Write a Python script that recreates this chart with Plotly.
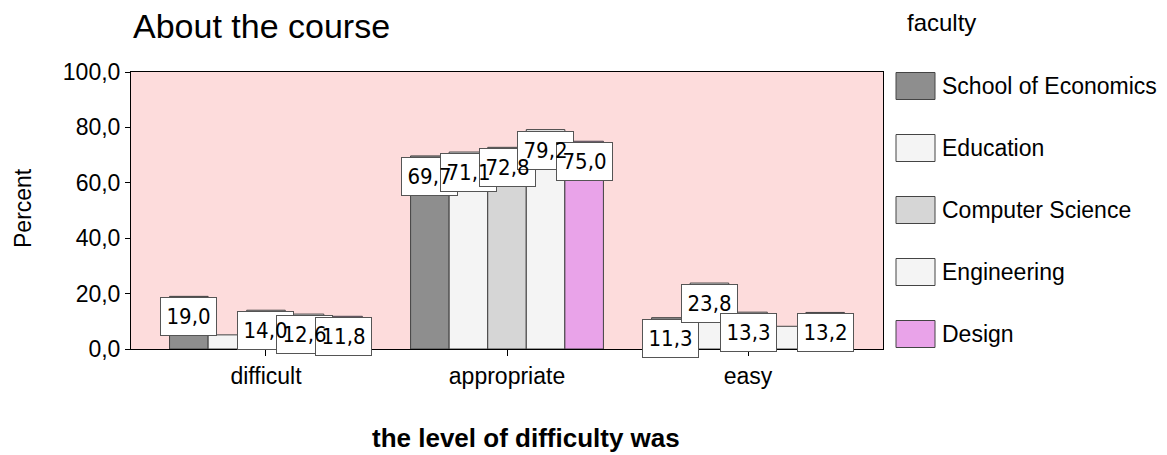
import plotly.graph_objects as go

# data
levels = ["difficult", "appropriate", "easy"]
faculties = ["School of Economics", "Education", "Computer Science", "Engineering", "Design"]
economics = [19.0, 69.7, 11.3]
education = [5.1, 71.1, 23.8]
computer_science = [14.0, 72.8, 13.3]
engineering = [12.6, 79.2, 8.2]
design = [11.8, 75.0, 13.2]
y_ticks = [0, 20, 40, 60, 80, 100]

series = [economics, education, computer_science, engineering, design]
colors = ["#8E8E8E", "#F4F4F4", "#D6D6D6", "#F4F4F4", "#E9A3E9"]

# the page body adds an 8px margin, so the figure is drawn that much smaller
OFF = 8
W, H = 1167 - OFF, 455 - OFF
L, R, T, B = 131 - OFF, 284, 72 - OFF, 106
plot_w = W - L - R
plot_h = H - T - B

fig = go.Figure()
for name, vals, col in zip(faculties, series, colors):
    fig.add_trace(go.Bar(
        x=levels, y=vals, name=name,
        marker=dict(color=col, line=dict(color="#404040", width=1)),
        showlegend=False, hoverinfo="x+y+name",
    ))

label_font = "Liberation Sans Narrow, DejaVu Sans Condensed, Liberation Sans, Arial"
n = len(series)
bar_w = 0.8 / n

# label boxes first, then the texts on top (boxes overlap each other)
boxes, texts = [], []
for si, vals in enumerate(series):
    for ci, v in enumerate(vals):
        if v < 10:
            continue  # small bars carry no label in the reference
        xpos = ci + (si - (n - 1) / 2) * bar_w
        lab = f"{v:.1f}".replace(".", ",")
        common = dict(x=xpos, y=v, xref="x", yref="y", showarrow=False,
                      yanchor="top", yshift=-1, width=53, height=35,
                      borderpad=1, align="center")
        boxes.append(dict(text=lab, font=dict(family=label_font, size=22, color="rgba(0,0,0,0)"),
                          bgcolor="white", bordercolor="#555555", borderwidth=1, **common))
        texts.append(dict(text=lab, font=dict(family=label_font, size=22, color="black"),
                          borderwidth=1, bordercolor="rgba(0,0,0,0)", **common))

# helpers: page pixel (as in the reference) -> paper coords
def px_x(p):
    return (p - OFF - L) / plot_w

def px_y(p):
    return (H - B - (p - OFF)) / plot_h

shapes = []
extra_ann = []
for i, (name, col) in enumerate(zip(faculties, colors)):
    cy = 86 + i * 62
    shapes.append(dict(type="rect", xref="paper", yref="paper",
                       x0=px_x(896), x1=px_x(935), y0=px_y(cy + 13.5), y1=px_y(cy - 13.5),
                       fillcolor=col, line=dict(color="#444444", width=1)))
    extra_ann.append(dict(text=name, x=px_x(940), y=px_y(cy), xref="paper", yref="paper",
                          xanchor="left", yanchor="middle", showarrow=False,
                          font=dict(size=23, color="black")))

extra_ann.append(dict(text="About the course", x=px_x(131), y=px_y(26), xref="paper", yref="paper",
                      xanchor="left", yanchor="middle", showarrow=False,
                      font=dict(size=34, color="black")))
extra_ann.append(dict(text="faculty", x=px_x(905), y=px_y(22), xref="paper", yref="paper",
                      xanchor="left", yanchor="middle", showarrow=False,
                      font=dict(size=24, color="black")))
extra_ann.append(dict(text="Percent", x=px_x(23), y=px_y(208), xref="paper", yref="paper",
                      xanchor="center", yanchor="middle", showarrow=False, textangle=-90,
                      font=dict(size=23, color="black")))
extra_ann.append(dict(text="<b>the level of difficulty was</b>", x=px_x(526), y=px_y(438),
                      xref="paper", yref="paper", xanchor="center", yanchor="middle",
                      showarrow=False, font=dict(size=26, color="black")))

fig.update_layout(
    width=W, height=H, autosize=False,
    margin=dict(l=L, r=R, t=T, b=B),
    paper_bgcolor="white",
    plot_bgcolor="#FDDCDC",
    barmode="group", bargap=0.2, bargroupgap=0,
    separators=",.",
    font=dict(family="Liberation Sans, Arial, sans-serif", color="black"),
    annotations=boxes + texts + extra_ann,
    shapes=shapes,
    showlegend=False,
)
fig.update_xaxes(type="category", range=[-0.56, 2.56], showline=True, mirror=True,
                 linecolor="black", linewidth=1, ticks="outside", ticklen=6,
                 tickcolor="black", tickfont=dict(size=23), showgrid=False)
fig.update_yaxes(range=[0, 100], tickvals=y_ticks, tickformat=".1f", showline=True,
                 mirror=True, linecolor="black", linewidth=1, ticks="outside", ticklen=5,
                 tickcolor="black", tickfont=dict(size=23), showgrid=False, zeroline=False)

fig.write_html("out.html")
